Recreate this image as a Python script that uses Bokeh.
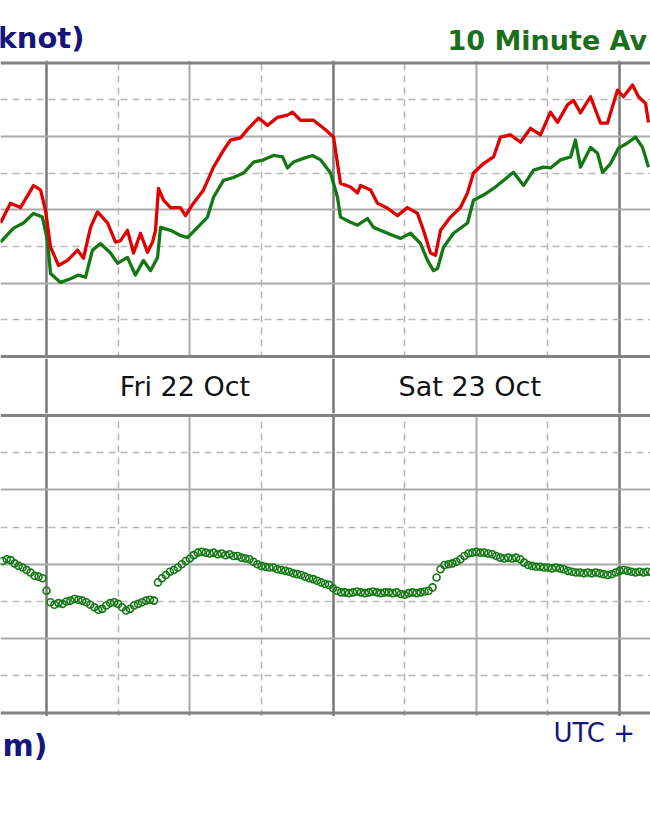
import numpy as np
from bokeh.plotting import figure
from bokeh.layouts import column
from bokeh.models import Range1d, Grid, FixedTicker, Span, Label
from bokeh.embed import file_html
from bokeh.resources import INLINE

# ---- data (hours from Fri 22 Oct 00:00) ----
gust_h = [-3.85, -3.02, -2.18, -1.09, -0.50, -0.08, 0.34, 1.01, 1.76, 2.60, 3.10, 3.69, 4.27, 5.11,
          5.78, 6.20, 6.78, 7.29, 7.87, 8.46, 8.88, 9.13, 9.38, 9.80, 10.39, 11.22, 11.64, 12.31,
          13.15, 13.99, 14.82, 15.41, 16.25, 16.92, 17.76, 18.51, 19.35, 20.18, 20.60, 21.27, 22.36,
          23.37, 24.04, 24.62, 25.46, 26.05, 26.30, 27.14, 27.72, 28.56, 29.40, 30.23, 31.07, 31.57,
          32.16, 32.58, 33.00, 33.84, 34.67, 35.26, 35.76, 36.60, 37.44, 38.02, 38.86, 39.70, 40.54,
          41.37, 42.21, 42.80, 43.63, 44.14, 44.72, 45.56, 46.40, 46.98, 47.82, 48.32, 49.08, 49.58,
          50.17, 50.42]
gust_kn = [18.2, 20.9, 20.3, 23.3, 22.7, 19.9, 14.9, 12.4, 13.1, 14.5, 13.4, 17.6, 19.7, 18.2,
           15.6, 15.8, 17.2, 14.1, 16.8, 14.2, 15.6, 17.2, 22.9, 21.3, 20.3, 20.3, 19.2, 20.9,
           22.7, 25.8, 28.1, 29.5, 29.8, 31.1, 32.5, 31.5, 32.6, 32.9, 33.3, 32.2, 32.2,
           30.9, 29.9, 23.6, 23.1, 22.3, 23.3, 22.7, 20.9, 20.2, 19.2, 20.3, 19.5, 17.2,
           14.1, 13.8, 17.2, 19.0, 20.3, 22.3, 25.0, 26.3, 27.2, 29.9, 30.2, 29.2, 31.1,
           30.2, 33.3, 31.9, 34.3, 34.9, 33.2, 35.4, 31.8, 31.8, 36.3, 35.4, 37.0, 35.4,
           34.5, 31.9]

avg_h = [-3.85, -2.76, -1.93, -1.09, -0.34, 0.08, 0.34, 1.17, 2.01, 2.68, 3.27, 3.85, 4.52, 5.36,
         5.95, 6.78, 7.45, 8.12, 8.71, 9.30, 9.55, 10.39, 11.22, 11.81, 12.65, 13.48, 13.99, 14.82,
         15.66, 16.50, 17.34, 18.17, 19.01, 19.77, 20.18, 20.69, 21.52, 22.28, 22.95, 23.79, 24.37,
         24.62, 25.46, 26.05, 26.88, 27.39, 28.56, 29.65, 30.49, 31.32, 31.91, 32.41, 32.75, 33.25,
         34.09, 35.26, 35.76, 36.60, 37.44, 38.27, 39.11, 39.95, 40.79, 41.62, 42.21, 43.05, 43.89,
         44.30, 44.72, 45.56, 46.15, 46.57, 47.24, 47.91, 48.66, 49.33, 49.92, 50.42]
avg_kn = [15.6, 17.5, 18.2, 19.5, 19.0, 15.8, 11.3, 10.1, 10.6, 11.1, 10.8, 14.5, 15.4, 14.1,
          12.7, 13.5, 11.1, 13.1, 11.7, 13.5, 17.6, 17.2, 16.5, 16.2, 17.6, 19.0, 21.7, 24.0,
          24.4, 25.0, 26.5, 26.8, 27.4, 27.2, 25.7, 26.5, 27.0, 27.4, 26.8, 25.0, 21.7,
          19.0, 18.3, 17.9, 18.8, 17.6, 16.8, 16.1, 16.8, 15.4, 13.1, 11.7, 12.0, 14.9,
          16.8, 18.2, 21.3, 22.0, 22.9, 24.0, 25.1, 23.3, 25.4, 25.8, 25.7, 26.8, 27.2,
          29.5, 25.8, 28.5, 27.7, 25.1, 26.3, 28.4, 29.1, 29.9, 28.5, 25.8]

# wind direction, one reading every 20 minutes starting at -3h40m
dir_start_h = -11.0 / 3.0
dir_step_h = 1.0 / 3.0
dir_deg = [
    184, 186,
    185, 181, 178,  176, 173, 170,  166, 165, 163,
    148, 134, 131,  133, 132, 135,  136, 138, 137,  136, 134, 131,
    128, 125, 126,  130, 133, 134,  132, 128, 124,  126, 130, 132,
    134, 136, 137,  136, 158, 163,  167, 171, 173,  176, 180, 184,
    187, 191, 194,  195, 194, 193,  194, 192, 193,  191, 192, 190,
    190, 188, 187,  186, 183, 180,  178, 177, 176,  176, 174, 173,
    172, 171, 169,  168, 167, 165,  163, 162, 160,  158, 156, 155,
    151, 148, 146,  146, 145, 146,  147, 146, 145,  146, 147, 146,
    145, 146, 146,  145, 146, 144,  143, 145, 146,  145, 146, 147,
    148, 152, 164,  174, 179, 180,  181, 183, 186,  190, 193, 194,
    195, 194, 194,  193, 192, 190,  188, 187, 188,  187, 188, 186,
    182, 179, 178,  177, 177, 176,  176, 175, 176,  175, 174, 172,
    171, 170, 170,  169, 170, 169,  170, 169, 168,  167, 168, 170,
    172, 173, 172,  171, 170, 171,  170, 171, 170]
dir_h = [dir_start_h + i * dir_step_h for i in range(len(dir_deg))]

day_labels = ["Fri 22 Oct", "Sat 23 Oct"]
day_label_h = [11.6, 35.45]
day_ticks = [0, 24, 48]
noon_ticks = [12, 36]
quarter_ticks = [-6, 6, 18, 30, 42, 54]
speed_major = [10, 20, 30]
speed_minor = [5, 15, 25, 35]
dir_major = [90, 180, 270]
dir_minor = [45, 135, 225, 315]

# ---- styling ----
W = 650
X0, X1 = -3.853, 50.586
NAVY = "#16167a"
RED = "#e00000"
GREEN = "#137713"
BORDER = "#828282"
DAYLINE = "#787878"
SOLID = "#aaaaaa"
DASH = "#b6b6b6"


def base(h, y0, y1):
    p = figure(width=W, height=h, x_range=Range1d(X0, X1), y_range=Range1d(y0, y1),
               x_axis_location=None, y_axis_location=None, toolbar_location=None,
               output_backend="svg", min_border=0, outline_line_color=None,
               background_fill_color="white", border_fill_color="white")
    p.grid.visible = False
    return p


def vgrid(p, full=True):
    if full:
        p.add_layout(Grid(dimension=0, ticker=FixedTicker(ticks=quarter_ticks),
                          grid_line_color=DASH, grid_line_width=1.5, grid_line_dash="7 5"))
        p.add_layout(Grid(dimension=0, ticker=FixedTicker(ticks=noon_ticks),
                          grid_line_color=SOLID, grid_line_width=2))
    p.add_layout(Grid(dimension=0, ticker=FixedTicker(ticks=day_ticks),
                      grid_line_color=DAYLINE, grid_line_width=2.5))


def hgrid(p, major, minor):
    p.add_layout(Grid(dimension=1, ticker=FixedTicker(ticks=minor),
                      grid_line_color=DASH, grid_line_width=1.5, grid_line_dash="7 5"))
    p.add_layout(Grid(dimension=1, ticker=FixedTicker(ticks=major),
                      grid_line_color=SOLID, grid_line_width=2))


# header (page rows 0..60)
head = base(60, 0, 1)
head.add_layout(Label(x=3.18, y=0.383, text="knot)", text_font="DejaVu Sans",
                      text_font_style="bold", text_font_size="29px", text_color=NAVY,
                      text_align="right", text_baseline="alphabetic"))
head.add_layout(Label(x=33.58, y=0.34, text="10 Minute Av", text_font="DejaVu Sans",
                      text_font_style="bold", text_font_size="27px", text_color="#1b6e1b",
                      text_align="left", text_baseline="alphabetic"))

# wind speed panel (rows 60..358)
top = base(298, -0.27, 40.34)
vgrid(top)
hgrid(top, speed_major, speed_minor)
top.line(avg_h, avg_kn, line_color=GREEN, line_width=3.3, line_join="round")
top.line(gust_h, gust_kn, line_color=RED, line_width=3.3, line_join="round")
for loc in (0, 40):
    top.add_layout(Span(location=loc, dimension="width", line_color=BORDER, line_width=3))

# date band (rows 358..413)
band = base(55, 0, 1)
vgrid(band, full=False)
for t, hh in zip(day_labels, day_label_h):
    band.add_layout(Label(x=hh, y=0.49, text=t, text_font="DejaVu Sans",
                          text_font_size="27px", text_color="#111111",
                          text_align="center", text_baseline="alphabetic"))

# wind direction panel (rows 413..716)
bot = base(303, -4.24, 362.4)
vgrid(bot)
hgrid(bot, dir_major, dir_minor)
bot.scatter(dir_h, dir_deg, marker="circle", size=7, fill_color=None,
            line_color=GREEN, line_width=1.6)
for loc in (0, 360):
    bot.add_layout(Span(location=loc, dimension="width", line_color=BORDER, line_width=3))

# footer (rows 716..812)
foot = base(96, 0, 1)
foot.add_layout(Label(x=0.08, y=0.698, text="m)", text_font="DejaVu Sans",
                      text_font_style="bold", text_font_size="30px", text_color=NAVY,
                      text_align="right", text_baseline="alphabetic"))
foot.add_layout(Label(x=42.46, y=0.823, text="UTC +", text_font="DejaVu Sans",
                      text_font_size="26px", text_color=NAVY,
                      text_align="left", text_baseline="alphabetic"))

layout = column(head, top, band, bot, foot, spacing=0)
open("out.html", "w").write(file_html(layout, INLINE))
